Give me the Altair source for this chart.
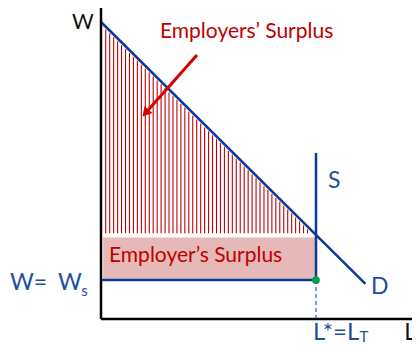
import altair as alt
import pandas as pd

# ---- chart values (economic units) ----
demand_L = [0.0, 12.3]
demand_W = [13.5, 1.6]
supply_L = [10.0, 10.0]
supply_W = [1.77, 7.55]
wage_L = [0.0, 10.0]
wage_W = [1.77, 1.77]
L_star = [10.0]
W_star = [1.77]
rect_L = [0.1, 10.0]
rect_W = [1.77, 3.7]
hatch_W_bottom = 3.9
hatch_range = [0.22, 9.9, 0.184]
arrow_L = [4.465, 2.07]
arrow_W = [12.0, 9.36]
head_L = [2.07]
head_W = [9.36]

labels = ["W", "Employers\u2019 Surplus", "Employer\u2019s Surplus", "S", "D",
          "W=", "W", "s", "L*=L", "T", "L"]
label_L = [-1.349, 2.744, 0.372, 10.56, 12.56, -4.233, -2.0, -0.92, 9.86, 12.02, 14.1]
label_W = [13.2, 12.77, 2.57, 5.95, 1.136, 1.318, 1.318, 1.045, -0.955, -1.04, -0.955]
label_color = ["#111111", "#c00000", "#c00000", "#1f4e9f", "#1f4e9f",
               "#1f4e9f", "#1f4e9f", "#1f4e9f", "#1f4e9f", "#1f4e9f", "#111111"]
label_size = [21, 21, 21, 23, 23, 23, 23, 15, 24, 15, 23]

BLUE = "#0b3a9c"
RED = "#c00000"

L_min, L_max = -4.3256, 14.465
W_min, W_max = -1.136, 14.136
xs = alt.Scale(domain=[L_min, L_max], nice=False, zero=False)
ys = alt.Scale(domain=[W_min, W_max], nice=False, zero=False)


def X(f="L"):
    return alt.X(f + ":Q", scale=xs, axis=None)


def Y(f="W"):
    return alt.Y(f + ":Q", scale=ys, axis=None)


rect = alt.Chart(pd.DataFrame({"L": [rect_L[0]], "L2": [rect_L[1]],
                               "W": [rect_W[0]], "W2": [rect_W[1]]})).mark_rect(
    fill="#e6b9b8").encode(x=X(), x2="L2:Q", y=Y(), y2="W2:Q")

slope = (demand_W[0] - demand_W[1]) / (demand_L[1] - demand_L[0])
hatch = alt.Chart(alt.sequence(hatch_range[0], hatch_range[1], hatch_range[2], as_="L")).transform_calculate(
    W=f"{hatch_W_bottom}",
    W2=f"{demand_W[0]} - {slope} * datum.L - 0.13",
).mark_rule(color=RED, strokeWidth=1.1).encode(x=X(), y=Y(), y2="W2:Q")

wage = alt.Chart(pd.DataFrame({"L": wage_L, "W": wage_W})).mark_line(
    color=BLUE, strokeWidth=2.5).encode(x=X(), y=Y())
demand = alt.Chart(pd.DataFrame({"L": demand_L, "W": demand_W})).mark_line(
    color=BLUE, strokeWidth=2.5).encode(x=X(), y=Y())
supply = alt.Chart(pd.DataFrame({"L": supply_L, "W": supply_W})).mark_line(
    color=BLUE, strokeWidth=2.5).encode(x=X(), y=Y())

axes_df = pd.DataFrame({"L": [0.0, 0.0], "W": [0.0, 0.0],
                        "L2": [0.0, L_max], "W2": [W_max, 0.0]})
axes = alt.Chart(axes_df).mark_rule(color="#000000", strokeWidth=2.5).encode(
    x=X(), y=Y(), x2="L2:Q", y2="W2:Q")

dash = alt.Chart(pd.DataFrame({"L": L_star, "W": [0.0], "W2": W_star})).mark_rule(
    color=BLUE, strokeWidth=1, strokeDash=[4, 3]).encode(x=X(), y=Y(), y2="W2:Q")

dot = alt.Chart(pd.DataFrame({"L": L_star, "W": W_star})).mark_point(
    shape="circle", filled=True, color="#00a04a", opacity=1, size=60).encode(x=X(), y=Y())

arrow = alt.Chart(pd.DataFrame({"L": arrow_L, "W": arrow_W})).mark_line(
    color="#d40000", strokeWidth=3).encode(x=X(), y=Y())
head = alt.Chart(pd.DataFrame({"L": head_L, "W": head_W})).mark_point(
    shape="triangle-up", filled=True, color="#d40000", opacity=1, size=110, angle=221).encode(x=X(), y=Y())

text_df = pd.DataFrame({"text": labels, "L": label_L, "W": label_W,
                        "color": label_color, "size": label_size})
texts = alt.Chart(text_df).mark_text(
    align="left", baseline="alphabetic", font="Lato").encode(
    x=X(), y=Y(), text="text:N",
    color=alt.Color("color:N", scale=None),
    size=alt.Size("size:Q", scale=None))

chart = alt.layer(rect, hatch, wage, demand, supply, axes, dash, dot, arrow, head, texts).properties(
    width=404, height=336, padding=0, autosize=alt.AutoSizeParams(type="none"),
    background="white",
).configure_view(stroke=None)

chart.save("out.html", embed_options={"renderer": "svg", "actions": False})
